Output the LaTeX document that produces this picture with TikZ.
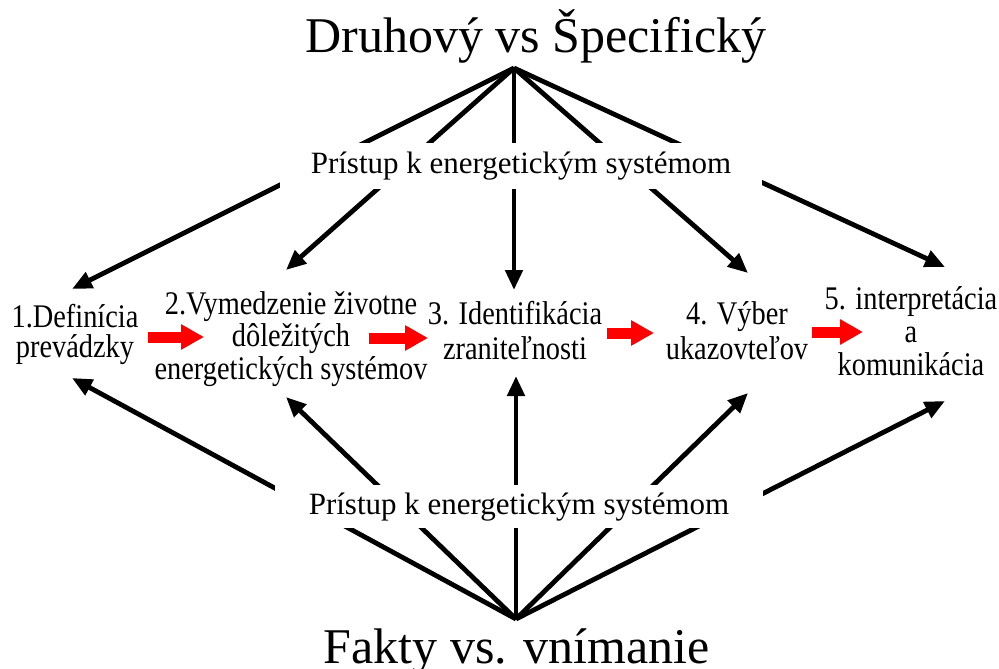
\documentclass[tikz,border=0pt]{standalone}
\usepackage{fontspec}
\setmainfont{Liberation Serif}
\newfontfamily\narrowserif[FakeStretch=0.86]{Liberation Serif}
\usetikzlibrary{arrows.meta}
% keep a fixed distance between the baselines of multi-line labels
\lineskiplimit=-100pt

\begin{document}
\begin{tikzpicture}[x=1pt,y=-1pt,
  conn/.style={line width=4.8pt, -{Triangle[length=20pt,width=17pt]}},
  flow/.style={draw=red, line width=11pt, -{Triangle[length=23pt,width=24pt]}},
  heading/.style={font=\fontsize{50}{60}\selectfont, inner sep=0pt, anchor=base},
  layer/.style={fill=white, inner sep=0pt, font=\fontsize{31}{37}\selectfont,
    text height=22pt, text depth=7pt, minimum height=46pt},
  stage/.style={inner sep=0pt, anchor=north, align=center,
    font=\narrowserif\fontsize{33}{#1}\selectfont,
    execute at begin node={\rule{0pt}{30pt}}},
  stage/.default=33,
]
\fill[white] (0,0) rectangle (999,669);
\useasboundingbox (0,0) rectangle (999,669);

% headings
\node[heading] (top) at (536,53) {Druhový vs Špecifický};
\node[heading] (bottom) at (517,663) {Fakty vs. vnímanie};

% the five steps
\node[stage=30]   (n1) at (75,304)  {1.Definícia\\prevádzky};
\node[stage=32.5] (n2) at (291,291) {2.Vymedzenie životne\\dôležitých\\energetických systémov};
\node[stage=35]   (n3) at (515,301) {3. Identifikácia\\zraniteľnosti};
\node[stage=35]   (n4) at (737,301) {4. Výber\\ukazovteľov};
\node[stage=33]   (n5) at (911,286) {5. interpretácia\\a\\komunikácia};

% fan points and arrow tips
\coordinate (topapex) at (514,68);
\coordinate (botapex) at (516,619);
\coordinate (u1) at (72,289);
\coordinate (u2) at (286,270);
\coordinate (u3) at (514,290);
\coordinate (u4) at (748,273);
\coordinate (u5) at (945,267);
\coordinate (d1) at (72,378);
\coordinate (d2) at (286,397);
\coordinate (d3) at (516,376);
\coordinate (d4) at (748,393);
\coordinate (d5) at (945,401);

\foreach \t in {u1,u2,u3,u4,u5} \draw[conn] (topapex) -- (\t);
\foreach \t in {d1,d2,d3,d4,d5} \draw[conn] (botapex) -- (\t);

% labels sitting over the fans
\node[layer, minimum width=482pt] (p1) at (521,165.5) {Prístup k energetickým systémom};
\node[layer, minimum width=488pt, minimum height=43pt] (p2) at (519,506.5) {Prístup k energetickým systémom};

% red flow arrows between the steps
\draw[flow] (148,337) -- (204,337);
\draw[flow] (369,338) -- (428,338);
\draw[flow] (607,333) -- (654,333);
\draw[flow] (812,332) -- (863,332);
\end{tikzpicture}
\end{document}
